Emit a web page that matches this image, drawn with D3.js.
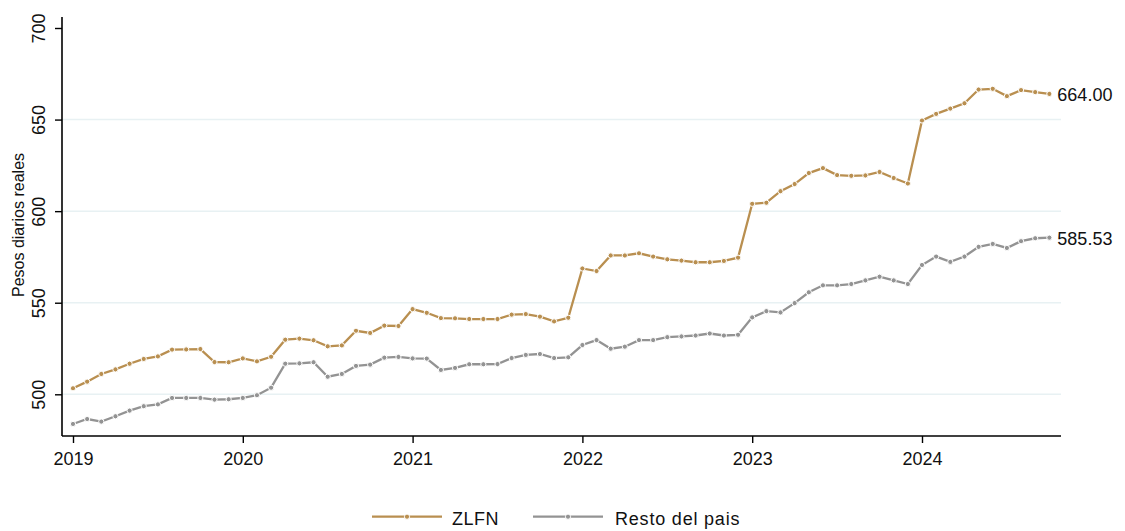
<!DOCTYPE html>
<html>
<head>
<meta charset="utf-8">
<script src="https://cdn.jsdelivr.net/npm/d3@7"></script>
<style>
  html, body { margin: 0; padding: 0; background: #fff; }
  svg { display: block; font-family: "Liberation Sans", Arial, sans-serif; }
</style>
</head>
<body>
<svg id="chart" width="1125" height="531"></svg>
<script>
// ---- data ----
const startYear = 2019;
const yearTicks = [2019, 2020, 2021, 2022, 2023, 2024];
const yTicks = [500, 550, 600, 650, 700];
const gridValues = [500, 550, 600, 650];
const seriesNames = ["ZLFN", "Resto del pais"];

const zlfn = [
  503.3, 506.9, 511.1, 513.6, 516.7, 519.3, 520.7, 524.4, 524.5, 524.7, 517.6, 517.5,
  519.6, 518.0, 520.5, 529.8, 530.4, 529.5, 526.2, 526.7, 534.7, 533.5, 537.5, 537.3,
  546.5, 544.5, 541.6, 541.5, 541.1, 541.1, 541.1, 543.5, 543.8, 542.4, 539.8, 541.8,
  568.7, 567.3, 575.8, 575.8, 577.0, 575.2, 573.7, 573.0, 572.1, 572.1, 572.8, 574.6,
  604.0, 604.6, 610.9, 614.8, 620.8, 623.5, 619.7, 619.3, 619.5, 621.4, 618.1, 615.1,
  649.5, 653.1, 656.0, 658.9, 666.4, 666.8, 662.8, 666.1, 665.0, 664.00
];
const resto = [
  483.8, 486.5, 485.1, 488.0, 491.1, 493.5, 494.5, 498.0, 498.0, 498.0, 497.1, 497.3,
  498.0, 499.5, 503.6, 516.7, 516.9, 517.5, 509.6, 511.1, 515.5, 516.2, 520.0, 520.4,
  519.6, 519.5, 513.3, 514.4, 516.4, 516.4, 516.5, 519.8, 521.5, 522.0, 519.8, 520.2,
  526.9, 529.6, 524.9, 526.0, 529.6, 529.6, 531.2, 531.6, 532.1, 533.2, 532.1, 532.5,
  542.0, 545.4, 544.7, 549.8, 555.7, 559.5, 559.5, 560.2, 562.2, 564.2, 562.2, 560.2,
  570.6, 575.2, 572.3, 575.2, 580.5, 582.1, 579.9, 583.6, 585.2, 585.53
];
const endLabels = ["664.00", "585.53"];
const colors = ["#b98f50", "#939393"];

// ---- chart ----
const svg = d3.select("#chart");
const plotLeft = 62, plotRight = 1061, plotTop = 17, plotBottom = 436;

const x = d3.scaleLinear().domain([2019, 2024]).range([73, 922]);
const y = d3.scaleLinear().domain([500, 700]).range([394.3, 28]);
const t = i => startYear + i / 12;

// grid
svg.append("g").selectAll("line").data(gridValues).join("line")
  .attr("x1", plotLeft).attr("x2", plotRight)
  .attr("y1", d => y(d)).attr("y2", d => y(d))
  .attr("stroke", "#e8f1f3").attr("stroke-width", 1.5);

// y axis
const yAxis = svg.append("g").attr("transform", `translate(${plotLeft},0)`)
  .call(d3.axisLeft(y).tickValues(yTicks).tickSize(7).tickFormat(d3.format("d")));
yAxis.select(".domain").attr("d", `M0,${plotTop}V${plotBottom}`).attr("stroke", "#000").attr("stroke-width", 1.6);
yAxis.selectAll(".tick line").attr("stroke", "#000").attr("stroke-width", 1.4);
yAxis.selectAll(".tick text")
  .attr("x", null).attr("dy", null)
  .attr("transform", "translate(-17,0) rotate(-90)")
  .attr("text-anchor", "middle")
  .attr("font-size", 18).attr("fill", "#111")
  .attr("font-family", "'Liberation Sans', Arial, sans-serif");

// x axis
const xAxis = svg.append("g").attr("transform", `translate(0,${plotBottom})`)
  .call(d3.axisBottom(x).tickValues(yearTicks).tickSize(7).tickFormat(d3.format("d")));
xAxis.select(".domain").attr("d", `M${plotLeft},0H${plotRight}`).attr("stroke", "#000").attr("stroke-width", 1.6);
xAxis.selectAll(".tick line").attr("stroke", "#000").attr("stroke-width", 1.4);
xAxis.selectAll(".tick text")
  .attr("y", 29).attr("dy", null)
  .attr("font-size", 18).attr("fill", "#111")
  .attr("font-family", "'Liberation Sans', Arial, sans-serif");

// y title
svg.append("text")
  .attr("transform", "translate(24,225) rotate(-90)")
  .attr("text-anchor", "middle")
  .attr("font-size", 16).attr("fill", "#111")
  .text("Pesos diarios reales");

// series
const series = [zlfn, resto];
const line = d3.line().x((d, i) => x(t(i))).y(d => y(d));
series.forEach((s, k) => {
  svg.append("path").datum(s)
    .attr("fill", "none").attr("stroke", colors[k]).attr("stroke-width", 2.3)
    .attr("d", line);
});
series.forEach((s, k) => {
  svg.append("g").selectAll("circle").data(s).join("circle")
    .attr("cx", (d, i) => x(t(i))).attr("cy", d => y(d))
    .attr("r", 2.6)
    .attr("fill", colors[k]).attr("stroke", "#fff").attr("stroke-width", 1);
});

// end labels
series.forEach((s, k) => {
  const i = s.length - 1;
  svg.append("text")
    .attr("x", x(t(i)) + 8).attr("y", y(s[i]) + 7)
    .attr("font-size", 18).attr("fill", "#111")
    .text(endLabels[k]);
});

// legend
const legendItems = [
  { x1: 372, x2: 442, tx: 452 },
  { x1: 533, x2: 603, tx: 615 }
];
const ly = 516.7;
legendItems.forEach((li, k) => {
  svg.append("line").attr("x1", li.x1).attr("x2", li.x2).attr("y1", ly).attr("y2", ly)
    .attr("stroke", colors[k]).attr("stroke-width", 2.3);
  svg.append("circle").attr("cx", (li.x1 + li.x2) / 2).attr("cy", ly).attr("r", 2.6)
    .attr("fill", colors[k]).attr("stroke", "#fff").attr("stroke-width", 1);
  svg.append("text").attr("x", li.tx).attr("y", ly + 8)
    .attr("font-size", 18).attr("fill", "#111").attr("letter-spacing", k === 1 ? 0.8 : 0.5)
    .text(seriesNames[k]);
});
</script>
</body>
</html>
